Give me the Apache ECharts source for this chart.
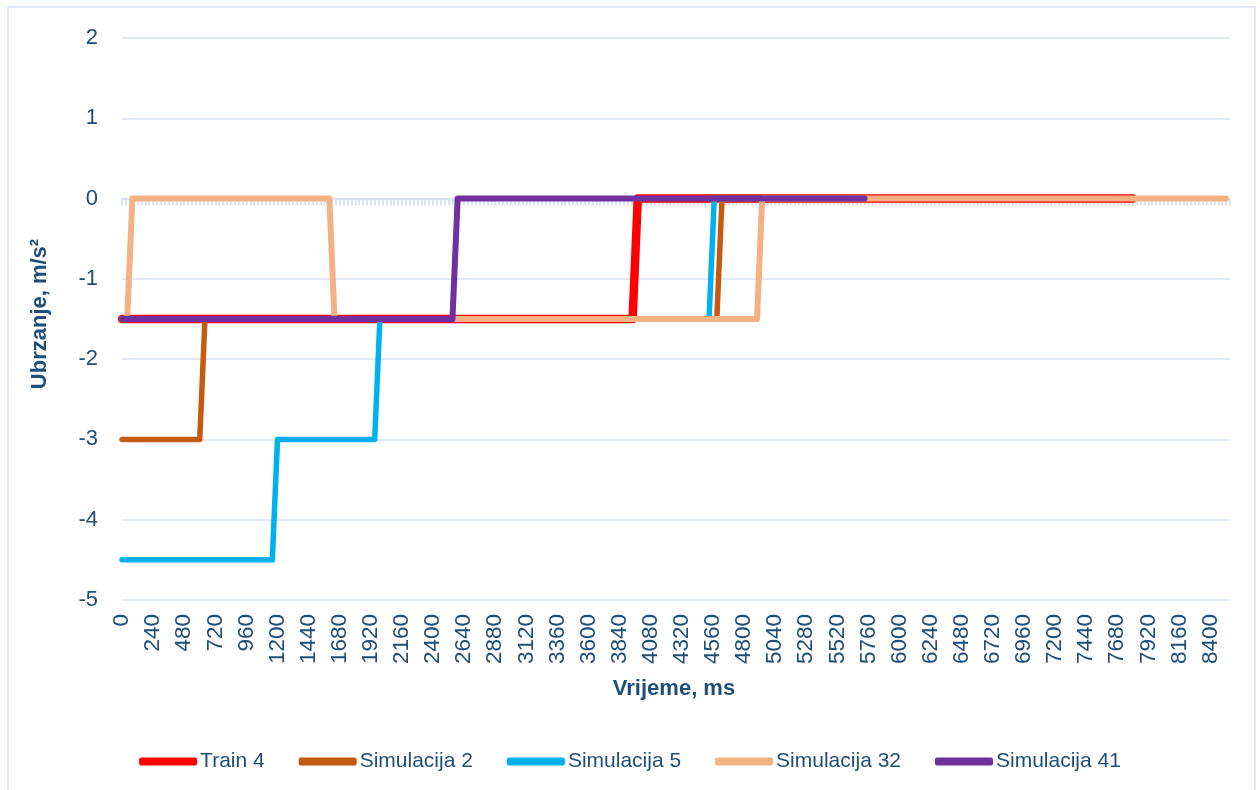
<!DOCTYPE html>
<html>
<head>
<meta charset="utf-8">
<script src="https://cdn.jsdelivr.net/npm/echarts@6/dist/echarts.min.js"></script>
<style>
html,body{margin:0;padding:0;background:#fff;}
#chart{width:1260px;height:790px;}
</style>
</head>
<body>
<div id="chart"></div>
<script>
// ---- data ----
const seriesNames = ['Train 4', 'Simulacija 2', 'Simulacija 5', 'Simulacija 32', 'Simulacija 41'];
// [time ms, acceleration m/s²] breakpoints
const train4 = [[0, -1.5], [3940, -1.5], [3980, 0], [7800, 0]];
const sim2   = [[0, -3], [600, -3], [640, -1.5], [4590, -1.5], [4630, 0], [5700, 0]];
const sim5   = [[0, -4.5], [1160, -4.5], [1200, -3], [1950, -3], [1990, -1.5], [4530, -1.5], [4570, 0], [5700, 0]];
const sim32  = [[0, -1.5], [40, -1.5], [80, 0], [1600, 0], [1640, -1.5], [4900, -1.5], [4940, 0], [8520, 0]];
const sim41  = [[0, -1.5], [2550, -1.5], [2590, 0], [5730, 0]];
// category ticks (ms)
const timeStep = 30;
const timeMax = 8550;
const timeCategories = [];
for (let t = 0; t <= timeMax; t += timeStep) timeCategories.push(String(t));
const yTicks = { min: -5, max: 2, interval: 1 };

const colors = ['#FF0000', '#C55A11', '#00B0F0', '#F4B183', '#7030A0'];
const widths = [8.5, 5.5, 5.5, 6, 6];
const textColor = '#1F4E79';
const gridColor = '#D9E2F3';
const FONT = 'Liberation Sans';

const chart = echarts.init(document.getElementById('chart'));
const allData = [train4, sim2, sim5, sim32, sim41];

chart.setOption({
  animation: false,
  backgroundColor: '#fff',
  textStyle: { fontFamily: FONT },
  grid: { left: 122, right: 30, top: 38, bottom: 190, containLabel: false },
  legend: {
    data: seriesNames,
    left: 'center',
    top: 746,
    icon: 'roundRect',
    itemWidth: 58,
    itemHeight: 8,
    itemGap: 34,
    textStyle: { fontFamily: FONT, fontSize: 21, color: textColor, padding: [0, 0, 0, -2] }
  },
  xAxis: [
    { type: 'value', min: 0, max: timeMax, show: false, axisLine: { onZero: false } },
    {
      type: 'category', data: timeCategories, boundaryGap: false, position: 'bottom',
      axisLine: { show: true, onZero: true, lineStyle: { color: '#D5DFF1', width: 1 } },
      axisTick: { show: true, interval: 0, length: 7, lineStyle: { color: '#D0DCF0', width: 1.6 } },
      axisLabel: { show: false },
      splitLine: { show: false }
    },
    {
      type: 'category', data: timeCategories, boundaryGap: false, position: 'bottom',
      axisLine: { show: false, onZero: false },
      axisTick: { show: false },
      axisLabel: { interval: 7, rotate: 90, fontSize: 22.5, margin: 14, color: textColor, fontFamily: FONT },
      splitLine: { show: false }
    }
  ],
  yAxis: {
    type: 'value', min: yTicks.min, max: yTicks.max, interval: yTicks.interval,
    axisLine: { show: false }, axisTick: { show: false },
    axisLabel: { fontSize: 22, margin: 24, color: textColor, fontFamily: FONT },
    splitLine: { lineStyle: { color: gridColor, width: 1.5 } }
  },
  series: seriesNames.map((n, i) => ({
    name: n,
    type: 'line',
    xAxisIndex: 0,
    data: allData[i],
    symbol: 'none',
    showSymbol: false,
    color: colors[i],
    lineStyle: { color: colors[i], width: widths[i], cap: 'round', join: 'round' }
  })),
  graphic: [
    {
      type: 'rect', silent: true,
      shape: { x: 8, y: 7, width: 1247, height: 800 },
      style: { fill: 'none', stroke: gridColor, lineWidth: 1.5 }
    },
    {
      type: 'text', x: 674, y: 689,
      style: { text: 'Vrijeme, ms', font: 'bold 22px "' + FONT + '"', fill: textColor, align: 'center', verticalAlign: 'middle' }
    },
    {
      type: 'text', x: 40, y: 314, rotation: Math.PI / 2,
      style: { text: 'Ubrzanje, m/s²', font: 'bold 22px "' + FONT + '"', fill: textColor, align: 'center', verticalAlign: 'middle' }
    }
  ]
});
</script>
</body>
</html>
